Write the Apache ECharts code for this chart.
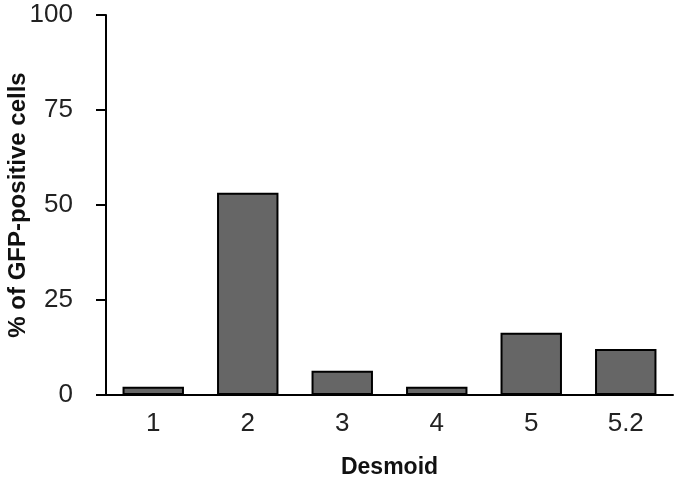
<!DOCTYPE html>
<html>
<head>
<meta charset="utf-8">
<script src="https://cdn.jsdelivr.net/npm/echarts@6/dist/echarts.min.js"></script>
<style>html,body{margin:0;padding:0;background:#fff}#c{width:680px;height:480px}</style>
</head>
<body>
<div id="c"></div>
<script>
var categories = ['1', '2', '3', '4', '5', '5.2'];
var values = [2.2, 53.2, 6.4, 2.2, 16.4, 12.1];
var yTicks = [0, 25, 50, 75, 100];

var chart = echarts.init(document.getElementById('c'));
chart.setOption({
  animation: false,
  grid: {left: 106, right: 7, top: 15, bottom: 85, containLabel: false, outerBoundsMode: 'none'},
  xAxis: {
    type: 'category',
    data: categories,
    name: 'Desmoid',
    nameLocation: 'middle',
    nameGap: 61,
    nameMoveOverlap: false,
    nameTextStyle: {fontFamily: 'Liberation Sans, Arial', fontWeight: 'bold', fontSize: 23, color: '#111'},
    axisLine: {lineStyle: {color: '#000', width: 2}},
    axisTick: {show: false},
    axisLabel: {margin: 16, fontFamily: 'Liberation Sans, Arial', fontSize: 26, color: '#222'}
  },
  yAxis: {
    type: 'value',
    min: yTicks[0],
    max: yTicks[yTicks.length - 1],
    interval: 25,
    name: '% of GFP-positive cells',
    nameLocation: 'middle',
    nameGap: 76,
    nameMoveOverlap: false,
    nameTextStyle: {fontFamily: 'Liberation Sans, Arial', fontWeight: 'bold', fontSize: 24, color: '#111'},
    axisLine: {show: true, lineStyle: {color: '#000', width: 2}},
    axisTick: {show: true, length: 10, inside: false, lineStyle: {color: '#000', width: 2}},
    axisLabel: {margin: 33, fontFamily: 'Liberation Sans, Arial', fontSize: 26, color: '#222'},
    splitLine: {show: false}
  },
  series: [{
    type: 'bar',
    data: values,
    barWidth: '65%',
    itemStyle: {color: '#666666', borderColor: '#000', borderWidth: 2}
  }]
});
</script>
</body>
</html>
